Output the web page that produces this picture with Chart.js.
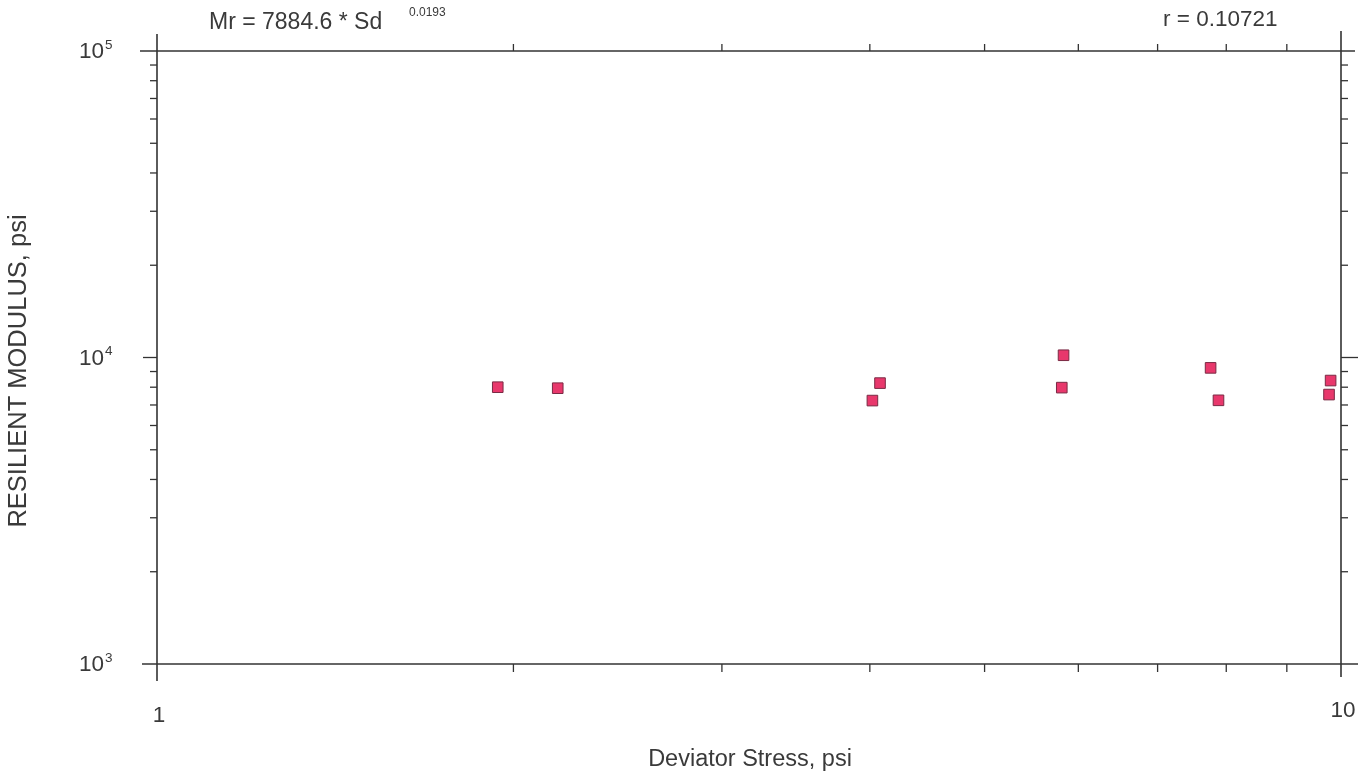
<!DOCTYPE html>
<html>
<head>
<meta charset="utf-8">
<title>Resilient Modulus vs Deviator Stress</title>
<script src="https://cdn.jsdelivr.net/npm/chart.js@4/dist/chart.umd.min.js"></script>
<style>
  html, body { margin: 0; padding: 0; background: #ffffff; }
  canvas { display: block; }
</style>
</head>
<body>
<canvas id="chart" width="1365" height="777"></canvas>
<script>
// Measured test points: deviator stress (psi) and resilient modulus (psi)
const deviatorStress   = [1.94, 2.18, 4.02, 4.08, 5.81, 5.83, 7.76, 7.88, 9.77, 9.80];
const resilientModulus = [8000, 7940, 7235, 8250, 7975, 10170, 9250, 7250, 7570, 8410];

// Axis tick positions (log decades and their sub-divisions)
const xTickValues = [1, 2, 3, 4, 5, 6, 7, 8, 9, 10];
const xTickLabels = ['1', '10'];            // labelled at 1 and 10
const yTickValues = [1000, 2000, 3000, 4000, 5000, 6000, 7000, 8000, 9000,
                     10000, 20000, 30000, 40000, 50000, 60000, 70000, 80000, 90000, 100000];
const yDecades    = [1000, 10000, 100000];
const yExponents  = ['3', '4', '5'];

// Regression annotation
const fitText      = 'Mr = 7884.6 * Sd';
const fitExponent  = '0.0193';
const corrText     = 'r = 0.10721';
const xTitle       = 'Deviator Stress, psi';
const yTitle       = 'RESILIENT MODULUS, psi';

const FONT = '"Liberation Sans", Arial, Helvetica, sans-serif';
const INK = '#3a3a3a';

const framePlugin = {
  id: 'logFrame',
  beforeDatasetsDraw(chart) {
    const { ctx, chartArea: a, scales: { x, y } } = chart;
    const line = (x1, y1, x2, y2) => {
      ctx.beginPath(); ctx.moveTo(x1, y1); ctx.lineTo(x2, y2); ctx.stroke();
    };
    ctx.save();
    ctx.strokeStyle = '#333333';
    ctx.lineWidth = 1.6;
    // frame lines, each running a little past the corners
    line(a.left,  a.top - 17, a.left,  a.bottom + 17);
    line(a.right, a.top - 20, a.right, a.bottom + 13);
    line(a.left - 17, a.top,    a.right + 14, a.top);
    line(a.left - 15, a.bottom, a.right + 17, a.bottom);

    ctx.lineWidth = 1.3;
    // x sub-ticks on top (upwards) and bottom (downwards)
    xTickValues.forEach(v => {
      if (v === 1 || v === 10) return;
      const px = x.getPixelForValue(v);
      line(px, a.top, px, a.top - 7);
      line(px, a.bottom, px, a.bottom + 8);
    });
    // y ticks on left (outwards) and right (outwards)
    yTickValues.forEach(v => {
      if (v === 1000 || v === 100000) return;
      const py = y.getPixelForValue(v);
      const major = yDecades.includes(v);
      line(a.left, py, a.left - (major ? 14 : 7), py);
      line(a.right, py, a.right + (major ? 17 : 7), py);
    });

    ctx.fillStyle = INK;
    // y decade labels 10^n
    yDecades.forEach((v, i) => {
      const py = y.getPixelForValue(v);
      ctx.font = '22.5px ' + FONT;
      ctx.textAlign = 'right';
      ctx.textBaseline = 'middle';
      ctx.fillText('10', 104, py + 1);
      ctx.font = '13.5px ' + FONT;
      ctx.textAlign = 'left';
      ctx.fillText(yExponents[i], 105, py - 6);
    });
    // x decade labels
    ctx.font = '22.5px ' + FONT;
    ctx.textAlign = 'center';
    ctx.textBaseline = 'middle';
    ctx.fillText(xTickLabels[0], x.getPixelForValue(1) + 2, a.bottom + 52);
    ctx.fillText(xTickLabels[1], x.getPixelForValue(10) + 2, a.bottom + 47);

    // axis titles
    ctx.font = '23.5px ' + FONT;
    ctx.fillText(xTitle, 750, 760);
    ctx.save();
    ctx.translate(19, 371);
    ctx.rotate(-Math.PI / 2);
    ctx.font = '25.5px ' + FONT;
    ctx.fillText(yTitle, 0, 0);
    ctx.restore();

    // regression equation and correlation
    ctx.textAlign = 'left';
    ctx.font = '23px ' + FONT;
    ctx.fillText(fitText, 209, 23);
    ctx.font = '12px ' + FONT;
    ctx.fillText(fitExponent, 409, 13);
    ctx.font = '22.5px ' + FONT;
    ctx.fillText(corrText, 1163, 20);
    ctx.restore();
  }
};

new Chart(document.getElementById('chart'), {
  type: 'scatter',
  data: {
    datasets: [{
      data: deviatorStress.map((s, i) => ({ x: s, y: resilientModulus[i] })),
      pointStyle: 'rect',
      pointRadius: 7.5,
      pointBackgroundColor: '#e8386c',
      pointBorderColor: '#7a2a44',
      pointBorderWidth: 1
    }]
  },
  options: {
    responsive: false,
    animation: false,
    devicePixelRatio: 1,
    layout: { padding: { left: 157, right: 24, top: 51, bottom: 113 } },
    plugins: { legend: { display: false }, tooltip: { enabled: false } },
    scales: {
      x: { type: 'logarithmic', min: 1, max: 10, display: false },
      y: { type: 'logarithmic', min: 1000, max: 100000, display: false }
    }
  },
  plugins: [framePlugin]
});
</script>
</body>
</html>
